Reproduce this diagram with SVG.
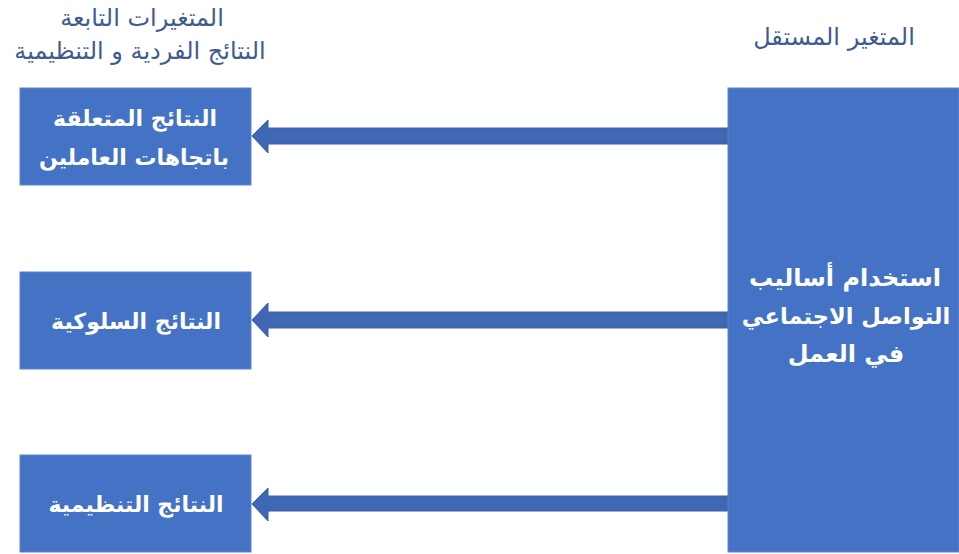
<svg xmlns="http://www.w3.org/2000/svg" width="959" height="554" viewBox="0 0 959 554">
<style>
.box{fill:#4472C4;stroke:#5B84CC;stroke-width:1}
.bt{fill:#ffffff;font-family:"DejaVu Sans","Noto Sans",sans-serif;font-size:24px;font-weight:bold;text-anchor:middle;direction:rtl}
.sm{font-size:22px}
.tt{fill:#3E5C8E;font-family:"DejaVu Serif","DejaVu Sans",serif;font-size:24px;text-anchor:middle;direction:rtl}
.arr{fill:#3F67B3;stroke:#3A5FA6;stroke-width:1}
</style>
<rect width="959" height="554" fill="#ffffff"/>
<g id="titles">
<text class="tt" x="142" y="26">المتغيرات التابعة</text>
<text class="tt" x="140" y="59">النتائج الفردية و التنظيمية</text>
<text class="tt" x="834" y="45">المتغير المستقل</text>
</g>
<g id="connectors">
<polygon class="arr" points="728,128 268,128 268,120 252,136 268,153 268,144 728,144"/>
<polygon class="arr" points="728,312 268,312 268,303 252,320 268,337 268,328 728,328"/>
<polygon class="arr" points="728,496 268,496 268,488 252,504 268,521 268,511 728,511"/>
</g>
<g id="node-independent">
<rect class="box" x="728" y="88" width="231" height="464"/>
<text class="bt" x="845" y="286">استخدام أساليب</text>
<text class="bt" x="846" y="324" style="font-size:22.5px">التواصل الاجتماعي</text>
<text class="bt" x="846" y="362">في العمل</text>
</g>
<g id="node-attitudes">
<rect class="box" x="20" y="88" width="231" height="97"/>
<text class="bt sm" x="135" y="126">النتائج المتعلقة</text>
<text class="bt sm" x="134" y="165">باتجاهات العاملين</text>
</g>
<g id="node-behavioral">
<rect class="box" x="20" y="272" width="231" height="97"/>
<text class="bt sm" x="136" y="329">النتائج السلوكية</text>
</g>
<g id="node-organizational">
<rect class="box" x="20" y="455" width="231" height="97"/>
<text class="bt sm" x="136" y="512">النتائج التنظيمية</text>
</g>
</svg>
